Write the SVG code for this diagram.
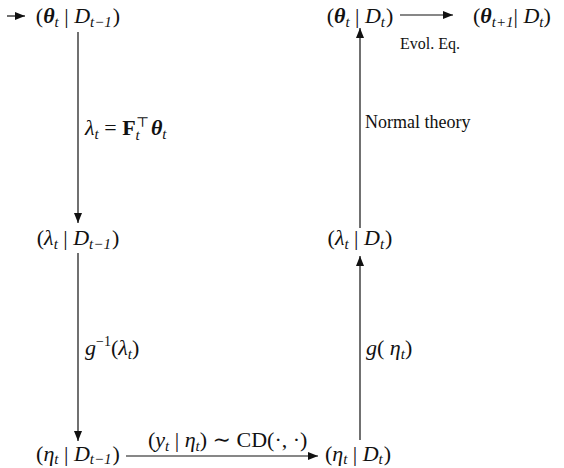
<svg xmlns="http://www.w3.org/2000/svg" width="564" height="468" viewBox="0 0 564 468">
<style>
.m{font-family:"Liberation Serif","DejaVu Serif",serif;font-size:22px;fill:#111;}
.i{font-style:italic;}
.b{font-weight:bold;font-style:italic;}
.s{font-size:15px;font-style:italic;}
.t{font-family:"Liberation Serif","DejaVu Serif",serif;fill:#111;}
.ln{stroke:#111;stroke-width:1.2;fill:none;}
</style>
<defs>
<marker id="ah" viewBox="0 0 10 8" refX="10" refY="4" markerWidth="10" markerHeight="8" markerUnits="userSpaceOnUse" orient="auto">
<path d="M0,0 L10,4 L0,8 Z" fill="#111"/>
</marker>
</defs>
<g id="connectors">
<line class="ln" x1="7" y1="16" x2="25" y2="16" marker-end="url(#ah)"/>
<line class="ln" x1="78" y1="32" x2="78" y2="223" marker-end="url(#ah)"/>
<line class="ln" x1="78" y1="253" x2="78" y2="441" marker-end="url(#ah)"/>
<line class="ln" x1="126" y1="456" x2="318" y2="456" marker-end="url(#ah)"/>
<line class="ln" x1="360" y1="440" x2="360" y2="256" marker-end="url(#ah)"/>
<line class="ln" x1="360" y1="228" x2="360" y2="28" marker-end="url(#ah)"/>
<line class="ln" x1="400" y1="15" x2="453" y2="15" marker-end="url(#ah)"/>
</g>
<g id="theta_prior">
<text class="m" x="78" y="23" text-anchor="middle">(<tspan class="b">θ</tspan><tspan class="s" dy="4">t</tspan><tspan dy="-4"> | </tspan><tspan class="i">D</tspan><tspan class="s" dy="4">t−1</tspan><tspan dy="-4" dx="1">)</tspan></text>
</g>
<g id="lambda_prior">
<text class="m" x="78" y="245" text-anchor="middle">(<tspan class="i">λ</tspan><tspan class="s" dy="4">t</tspan><tspan dy="-4"> | </tspan><tspan class="i">D</tspan><tspan class="s" dy="4">t−1</tspan><tspan dy="-4" dx="1">)</tspan></text>
</g>
<g id="eta_prior">
<text class="m" x="78" y="461" text-anchor="middle">(<tspan class="i">η</tspan><tspan class="s" dy="3">t</tspan><tspan dy="-3"> | </tspan><tspan class="i">D</tspan><tspan class="s" dy="3">t−1</tspan><tspan dy="-3" dx="1">)</tspan></text>
</g>
<g id="eta_post">
<text class="m" x="358" y="461" text-anchor="middle">(<tspan class="i">η</tspan><tspan class="s" dy="3">t</tspan><tspan dy="-3"> | </tspan><tspan class="i">D</tspan><tspan class="s" dy="3">t</tspan><tspan dy="-3" dx="1">)</tspan></text>
</g>
<g id="lambda_post">
<text class="m" x="360" y="245" text-anchor="middle">(<tspan class="i">λ</tspan><tspan class="s" dy="4">t</tspan><tspan dy="-4"> | </tspan><tspan class="i">D</tspan><tspan class="s" dy="4">t</tspan><tspan dy="-4" dx="1">)</tspan></text>
</g>
<g id="theta_post">
<text class="m" x="360" y="23" text-anchor="middle">(<tspan class="b">θ</tspan><tspan class="s" dy="4">t</tspan><tspan dy="-4"> | </tspan><tspan class="i">D</tspan><tspan class="s" dy="4">t</tspan><tspan dy="-4" dx="1">)</tspan></text>
</g>
<g id="theta_next">
<text class="m" x="473" y="23">(<tspan class="b">θ</tspan><tspan class="s" dy="4">t+1</tspan><tspan dy="-4">| </tspan><tspan class="i">D</tspan><tspan class="s" dy="4">t</tspan><tspan dy="-4">)</tspan></text>
</g>
<g id="labels">
<text class="m" x="85" y="135"><tspan class="i">λ</tspan><tspan class="s" dy="4">t</tspan><tspan dy="-4"> = </tspan><tspan font-weight="bold">F</tspan><tspan class="s" dy="5">t</tspan><tspan font-size="14" dx="-4" dy="-13">⊤</tspan><tspan class="b" dx="2" dy="8">θ</tspan><tspan class="s" dy="4">t</tspan></text>
<text class="m" x="85" y="355"><tspan class="i">g</tspan><tspan font-size="14" dy="-9">−1</tspan><tspan dy="9">(</tspan><tspan class="i">λ</tspan><tspan class="s" dy="4">t</tspan><tspan dy="-4">)</tspan></text>
<text class="m" x="366" y="355"><tspan class="i">g</tspan>( <tspan class="i">η</tspan><tspan class="s" dy="4">t</tspan><tspan dy="-4">)</tspan></text>
<text class="m" x="148" y="447" font-size="21">(<tspan class="i">y</tspan><tspan class="s" dy="4">t</tspan><tspan dy="-4"> | </tspan><tspan class="i">η</tspan><tspan class="s" dy="4">t</tspan><tspan dy="-4">) ∼ CD(·, ·)</tspan></text>
<text class="t" x="365" y="128" font-size="18">Normal theory</text>
<text class="t" x="400" y="49" font-size="16">Evol. Eq.</text>
</g>
</svg>
